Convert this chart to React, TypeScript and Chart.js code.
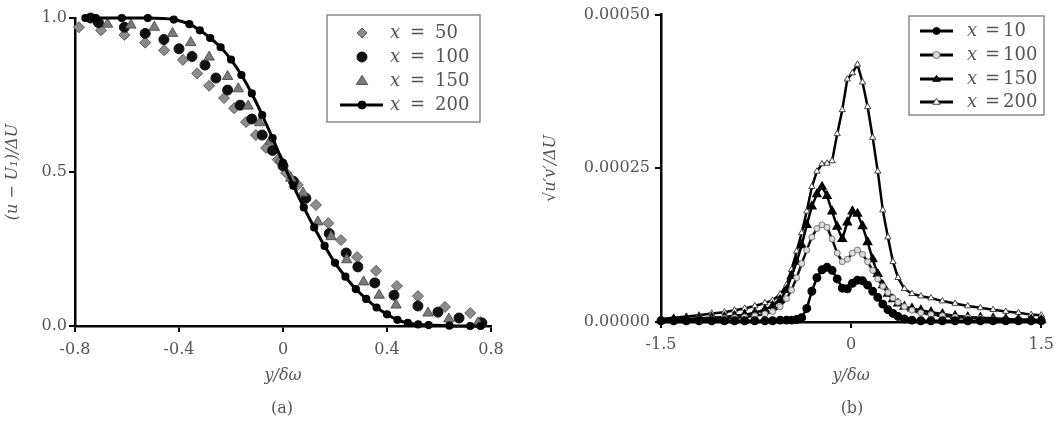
import React, { useEffect, useRef } from 'react';
import { Chart, registerables } from 'chart.js';
Chart.register(...registerables);

// ---------- Panel (a) data ----------
const A_LEGEND = ['50', '100', '150', '200'];

const A50_Y = [-0.785, -0.7, -0.61, -0.53, -0.457, -0.385, -0.33, -0.284, -0.227, -0.188, -0.142, -0.104, -0.065, -0.02, 0.012, 0.057, 0.127, 0.174, 0.223, 0.285, 0.358, 0.438, 0.519, 0.623, 0.72, 0.76];
const A50_U = [0.97, 0.96, 0.945, 0.92, 0.895, 0.864, 0.82, 0.78, 0.74, 0.707, 0.662, 0.62, 0.578, 0.54, 0.497, 0.458, 0.393, 0.334, 0.279, 0.224, 0.179, 0.13, 0.097, 0.062, 0.042, 0.013];

const A100_Y = [-0.74, -0.71, -0.61, -0.53, -0.458, -0.4, -0.35, -0.3, -0.258, -0.213, -0.165, -0.12, -0.08, -0.04, 0.0, 0.04, 0.088, 0.178, 0.243, 0.288, 0.353, 0.427, 0.519, 0.596, 0.677, 0.765];
const A100_U = [1.0, 0.985, 0.97, 0.95, 0.93, 0.9, 0.875, 0.847, 0.805, 0.766, 0.717, 0.672, 0.62, 0.57, 0.52, 0.47, 0.415, 0.3, 0.237, 0.192, 0.14, 0.1, 0.065, 0.045, 0.026, 0.01];

const A150_Y = [-0.675, -0.585, -0.495, -0.425, -0.355, -0.284, -0.213, -0.172, -0.134, -0.09, -0.05, -0.01, 0.03, 0.077, 0.134, 0.185, 0.245, 0.31, 0.37, 0.435, 0.558, 0.638, 0.75];
const A150_U = [0.98, 0.977, 0.97, 0.95, 0.92, 0.873, 0.81, 0.77, 0.714, 0.66, 0.6, 0.54, 0.48, 0.432, 0.338, 0.29, 0.215, 0.143, 0.1, 0.068, 0.042, 0.023, 0.01];

const A200_Y = [-0.76, -0.72, -0.62, -0.52, -0.42, -0.36, -0.32, -0.28, -0.24, -0.2, -0.16, -0.12, -0.08, -0.04, 0.0, 0.04, 0.08, 0.12, 0.16, 0.2, 0.24, 0.28, 0.32, 0.36, 0.4, 0.44, 0.48, 0.52, 0.56, 0.64, 0.72, 0.76];
const A200_U = [1.0, 1.0, 1.0, 1.0, 0.995, 0.98, 0.96, 0.935, 0.905, 0.865, 0.815, 0.755, 0.685, 0.61, 0.53, 0.455, 0.385, 0.32, 0.26, 0.205, 0.16, 0.12, 0.088, 0.06, 0.038, 0.02, 0.01, 0.005, 0.003, 0.001, 0.0, 0.0];

const A_XTICKS = [-0.8, -0.4, 0, 0.4, 0.8];
const A_XTICK_LABELS = ['-0.8', '-0.4', '0', '0.4', '0.8'];
const A_YTICKS = [0, 0.5, 1.0];
const A_YTICK_LABELS = ['0.0', '0.5', '1.0'];

// ---------- Panel (b) data (values in units of 1e-4) ----------
const B_LEGEND = ['10', '100', '150', '200'];
const B_Y = [-1.5, -1.4, -1.3, -1.2, -1.1, -1.0, -0.92, -0.84, -0.76, -0.68, -0.62, -0.56, -0.51, -0.47, -0.43, -0.39, -0.35, -0.31, -0.27, -0.23, -0.19, -0.15, -0.11, -0.07, -0.03, 0.01, 0.05, 0.09, 0.13, 0.17, 0.21, 0.25, 0.29, 0.33, 0.37, 0.42, 0.48, 0.55, 0.63, 0.72, 0.82, 0.92, 1.02, 1.12, 1.22, 1.32, 1.42, 1.5];
const W10 = [0.02, 0.02, 0.02, 0.02, 0.02, 0.02, 0.02, 0.02, 0.02, 0.02, 0.02, 0.03, 0.03, 0.03, 0.04, 0.07, 0.22, 0.5, 0.72, 0.85, 0.89, 0.84, 0.7, 0.55, 0.54, 0.63, 0.68, 0.67, 0.6, 0.5, 0.4, 0.29, 0.2, 0.14, 0.09, 0.05, 0.03, 0.02, 0.02, 0.02, 0.02, 0.02, 0.02, 0.02, 0.02, 0.02, 0.02, 0.02];
const W100 = [0.02, 0.03, 0.03, 0.04, 0.05, 0.06, 0.07, 0.08, 0.1, 0.13, 0.17, 0.25, 0.38, 0.52, 0.72, 0.95, 1.17, 1.38, 1.52, 1.58, 1.54, 1.35, 1.12, 0.98, 1.02, 1.12, 1.17, 1.1, 0.98, 0.84, 0.7, 0.58, 0.48, 0.39, 0.32, 0.25, 0.19, 0.15, 0.12, 0.1, 0.08, 0.07, 0.06, 0.05, 0.04, 0.03, 0.03, 0.02];
const W150 = [0.03, 0.04, 0.05, 0.06, 0.07, 0.08, 0.1, 0.12, 0.15, 0.2, 0.26, 0.36, 0.52, 0.75, 0.98, 1.25, 1.58, 1.88, 2.08, 2.2, 2.05, 1.8, 1.55, 1.35, 1.62, 1.8, 1.76, 1.56, 1.3, 1.02, 0.78, 0.6, 0.46, 0.37, 0.3, 0.25, 0.22, 0.19, 0.16, 0.13, 0.1, 0.08, 0.07, 0.06, 0.05, 0.04, 0.04, 0.03];
const W200 = [0.05, 0.07, 0.09, 0.11, 0.14, 0.16, 0.19, 0.22, 0.26, 0.31, 0.35, 0.45, 0.6, 0.85, 1.15, 1.45, 1.8, 2.2, 2.45, 2.57, 2.58, 2.62, 3.06, 3.45, 3.95, 4.05, 4.19, 3.9, 3.5, 3.0, 2.45, 1.82, 1.38, 0.98, 0.72, 0.54, 0.46, 0.42, 0.39, 0.34, 0.3, 0.26, 0.23, 0.2, 0.17, 0.15, 0.12, 0.11];

const B_XTICKS = [-1.5, 0, 1.5];
const B_XTICK_LABELS = ['-1.5', '0', '1.5'];
const B_YTICKS = [0, 2.5, 5];
const B_YTICK_LABELS = ['0.00000', '0.00025', '0.00050'];

const SERIF = '"DejaVu Serif", serif';
const TEXT = '#555';

function pts(xs: number[], ys: number[]) {
  return xs.map((x, i) => ({ x, y: ys[i] }));
}

function drawMarker(ctx: CanvasRenderingContext2D, style: string, x: number, y: number, r: number, fill: string, stroke: string) {
  ctx.beginPath();
  if (style === 'circle') {
    ctx.arc(x, y, r, 0, Math.PI * 2);
  } else if (style === 'rectRot') {
    ctx.moveTo(x, y - r); ctx.lineTo(x + r, y); ctx.lineTo(x, y + r); ctx.lineTo(x - r, y);
    ctx.closePath();
  } else {
    const h = r * 1.5;
    ctx.moveTo(x, y - h * 0.62); ctx.lineTo(x + r * 0.95, y + h * 0.38); ctx.lineTo(x - r * 0.95, y + h * 0.38);
    ctx.closePath();
  }
  ctx.fillStyle = fill; ctx.fill();
  ctx.lineWidth = 1; ctx.strokeStyle = stroke; ctx.stroke();
}

function legendPlugin(cfg: any) {
  return {
    id: 'boxLegend',
    afterDraw(chart: any) {
      const ctx: CanvasRenderingContext2D = chart.ctx;
      ctx.save();
      ctx.fillStyle = '#fff';
      ctx.fillRect(cfg.box[0], cfg.box[1], cfg.box[2] - cfg.box[0], cfg.box[3] - cfg.box[1]);
      ctx.strokeStyle = '#8a8a8a'; ctx.lineWidth = 1.5;
      ctx.strokeRect(cfg.box[0], cfg.box[1], cfg.box[2] - cfg.box[0], cfg.box[3] - cfg.box[1]);
      cfg.labels.forEach((label: string, i: number) => {
        const ds = chart.data.datasets[i];
        const y = cfg.rowY[i];
        if (ds.showLine) {
          ctx.beginPath(); ctx.moveTo(cfg.line[0], y); ctx.lineTo(cfg.line[1], y);
          ctx.strokeStyle = '#000'; ctx.lineWidth = 3; ctx.stroke();
        }
        drawMarker(ctx, ds.pointStyle, cfg.markerX, y, cfg.markerR[i], ds.pointBackgroundColor, ds.pointBorderColor);
        ctx.fillStyle = TEXT; ctx.textBaseline = 'middle'; ctx.textAlign = 'left';
        ctx.font = `italic 18px ${SERIF}`; ctx.fillText('x', cfg.textX, y);
        ctx.font = `18px ${SERIF}`; ctx.fillText('=', cfg.eqX, y); ctx.fillText(label, cfg.numX, y);
      });
      ctx.restore();
    },
  };
}

function axisCommon(ticksArr: number[], labels: string[], pad: number) {
  return {
    type: 'linear' as const,
    afterBuildTicks: (s: any) => { s.ticks = ticksArr.map((v) => ({ value: v })); },
    ticks: {
      callback: (_v: any, i: number) => labels[i],
      font: { family: SERIF, size: 16 },
      color: TEXT,
      padding: pad,
      autoSkip: false,
      maxRotation: 0,
    },
    grid: { drawOnChartArea: false, drawTicks: true, tickLength: 6, color: '#000', lineWidth: 2 },
    border: { display: true, color: '#000', width: 2.5 },
  };
}

export default function App() {
  const refA = useRef<HTMLCanvasElement>(null);
  const refB = useRef<HTMLCanvasElement>(null);

  useEffect(() => {
    const chartA = new Chart(refA.current!, {
      type: 'scatter',
      data: {
        datasets: [
          { label: A_LEGEND[0], data: pts(A50_Y, A50_U), showLine: false, pointStyle: 'rectRot', pointRadius: 5.5, pointBackgroundColor: '#8c8c8c', pointBorderColor: '#5a5a5a', pointBorderWidth: 1, order: 3, clip: false } as any,
          { label: A_LEGEND[1], data: pts(A100_Y, A100_U), showLine: false, pointStyle: 'circle', pointRadius: 5, pointBackgroundColor: '#111', pointBorderColor: '#111', pointBorderWidth: 1, order: 2, clip: false },
          { label: A_LEGEND[2], data: pts(A150_Y, A150_U), showLine: false, pointStyle: 'triangle', pointRadius: 6, pointBackgroundColor: '#7a7a7a', pointBorderColor: '#555', pointBorderWidth: 1, order: 1, clip: false },
          { label: A_LEGEND[3], data: pts(A200_Y, A200_U), showLine: true, borderColor: '#000', borderWidth: 3, cubicInterpolationMode: 'monotone', pointStyle: 'circle', pointRadius: 2.6, pointBackgroundColor: '#000', pointBorderColor: '#000', order: 0, clip: false },
        ],
      },
      options: {
        responsive: false,
        animation: false,
        layout: { padding: { top: 18, right: 39, bottom: 0, left: 0 } },
        plugins: { legend: { display: false }, tooltip: { enabled: false } },
        scales: {
          x: {
            ...axisCommon(A_XTICKS, A_XTICK_LABELS, 8),
            min: -0.8, max: 0.8,
            title: { display: true, text: 'y/δω', font: { family: SERIF, size: 16, style: 'italic' }, color: TEXT, padding: { top: 0, bottom: 38 } },
            afterFit: (s: any) => { s.height = 97; },
          },
          y: {
            ...axisCommon(A_YTICKS, A_YTICK_LABELS, 2),
            min: 0, max: 1,
            title: { display: true, text: '(u − U₁)/ΔU', font: { family: SERIF, size: 16, style: 'italic' }, color: TEXT, padding: { top: 3, bottom: 0 } },
            afterFit: (s: any) => { s.width = 75; },
          },
        },
      } as any,
      plugins: [legendPlugin({ labels: A_LEGEND, box: [327, 15, 480, 122], rowY: [33, 57, 81, 105], markerX: 362, markerR: [5, 5, 6, 4], line: [340, 383], textX: 390, eqX: 410, numX: 435 })],
    });

    const chartB = new Chart(refB.current!, {
      type: 'scatter',
      data: {
        datasets: [
          { label: B_LEGEND[0], data: pts(B_Y, W10), showLine: true, borderColor: '#000', borderWidth: 2.5, pointStyle: 'circle', pointRadius: 3.2, pointBackgroundColor: '#000', pointBorderColor: '#000', clip: false } as any,
          { label: B_LEGEND[1], data: pts(B_Y, W100), showLine: true, borderColor: '#111', borderWidth: 2.5, pointStyle: 'circle', pointRadius: 3, pointBackgroundColor: '#dcdcdc', pointBorderColor: '#777', pointBorderWidth: 1, clip: false },
          { label: B_LEGEND[2], data: pts(B_Y, W150), showLine: true, borderColor: '#000', borderWidth: 2.5, pointStyle: 'triangle', pointRadius: 3.6, pointBackgroundColor: '#000', pointBorderColor: '#000', clip: false },
          { label: B_LEGEND[3], data: pts(B_Y, W200), showLine: true, borderColor: '#000', borderWidth: 2.5, pointStyle: 'triangle', pointRadius: 3.6, pointBackgroundColor: '#fff', pointBorderColor: '#444', pointBorderWidth: 1, clip: false },
        ],
      },
      options: {
        responsive: false,
        animation: false,
        layout: { padding: { top: 13, right: 16, bottom: 0, left: 0 } },
        plugins: { legend: { display: false }, tooltip: { enabled: false } },
        scales: {
          x: {
            ...axisCommon(B_XTICKS, B_XTICK_LABELS, 7),
            min: -1.5, max: 1.5,
            title: { display: true, text: 'y/δω', font: { family: SERIF, size: 16, style: 'italic' }, color: TEXT, padding: { top: 0, bottom: 38 } },
            afterFit: (s: any) => { s.height = 101; },
          },
          y: {
            ...axisCommon(B_YTICKS, B_YTICK_LABELS, 5),
            min: 0, max: 5,
            title: { display: true, text: '√u′v′/ΔU', font: { family: SERIF, size: 16, style: 'italic' }, color: TEXT, padding: { top: 11, bottom: 0 } },
            afterFit: (s: any) => { s.width = 131; },
          },
        },
      } as any,
      plugins: [legendPlugin({ labels: B_LEGEND, box: [379, 16, 514, 115], rowY: [31, 55, 79, 102], markerX: 406.5, markerR: [3.5, 3.5, 4, 4], line: [390, 423], textX: 437, eqX: 455, numX: 473 })],
    });

    return () => { chartA.destroy(); chartB.destroy(); };
  }, []);

  const cap: React.CSSProperties = { position: 'absolute', top: 399, width: 100, textAlign: 'center', font: `16px ${SERIF}`, lineHeight: '18px', color: TEXT };

  return (
    <div style={{ position: 'absolute', left: 0, top: 0, width: 1061, height: 423, background: '#fff', overflow: 'hidden' }}>
      <canvas ref={refA} width={530} height={423} style={{ position: 'absolute', left: 0, top: 0, width: 530, height: 423 }} />
      <canvas ref={refB} width={531} height={423} style={{ position: 'absolute', left: 530, top: 0, width: 531, height: 423 }} />
      <div style={{ ...cap, left: 232 }}>(a)</div>
      <div style={{ ...cap, left: 802 }}>(b)</div>
    </div>
  );
}
